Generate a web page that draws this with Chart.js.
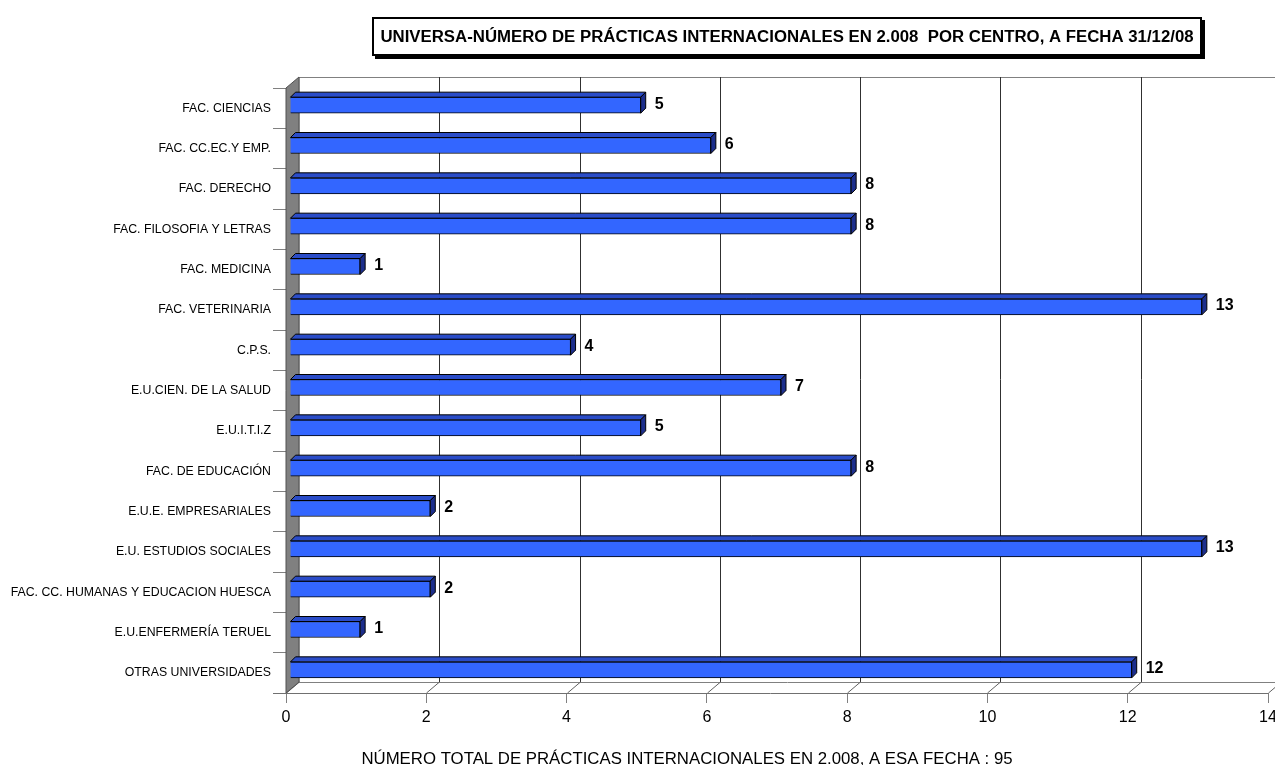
<!DOCTYPE html>
<html>
<head>
<meta charset="utf-8">
<script src="https://cdn.jsdelivr.net/npm/chart.js@4/dist/chart.umd.min.js"></script>
<style>
  body { margin: 0; background: #fff; }
  canvas { display: block; }
</style>
</head>
<body>
<canvas id="chart" width="1275" height="765"></canvas>
<script>
// datos del gráfico
const categories = [
    'FAC. CIENCIAS', 'FAC. CC.EC.Y EMP.', 'FAC. DERECHO', 'FAC. FILOSOFIA Y LETRAS',
    'FAC. MEDICINA', 'FAC. VETERINARIA', 'C.P.S.', 'E.U.CIEN. DE LA SALUD',
    'E.U.I.T.I.Z', 'FAC. DE EDUCACIÓN', 'E.U.E. EMPRESARIALES', 'E.U. ESTUDIOS SOCIALES',
    'FAC. CC. HUMANAS Y EDUCACION HUESCA', 'E.U.ENFERMERÍA TERUEL', 'OTRAS UNIVERSIDADES'
];
const values = [5, 6, 8, 8, 1, 13, 4, 7, 5, 8, 2, 13, 2, 1, 12];
const xTicks = [0, 2, 4, 6, 8, 10, 12, 14];

const titleText = 'UNIVERSA-NÚMERO DE PRÁCTICAS INTERNACIONALES EN 2.008  POR CENTRO, A FECHA 31/12/08';
const footerText = 'NÚMERO TOTAL DE PRÁCTICAS INTERNACIONALES EN 2.008, A ESA FECHA : 95';

const FONT = '"Liberation Sans", Arial, sans-serif';
const DX = 13, DY = -11;      // profundidad del fondo
const BDX = 4, BDY = -3;      // desplazamiento de las barras
const BD = 5;                 // grosor 3D de la barra

const box3d = {
    id: 'box3d',
    beforeDatasetsDraw(chart) {
        const { ctx, chartArea: a, scales: { x } } = chart;
        ctx.save();
        // plano del fondo (borde superior)
        ctx.strokeStyle = '#808080';
        ctx.lineWidth = 1;
        ctx.beginPath();
        ctx.moveTo(a.left + DX, a.bottom + DY);
        ctx.lineTo(a.left + DX, a.top + DY + 0.5);
        ctx.lineTo(chart.width, a.top + DY + 0.5);
        ctx.stroke();
        // suelo
        ctx.beginPath();
        ctx.moveTo(a.left + DX, a.bottom + DY + 0.5);
        ctx.lineTo(a.right + DX, a.bottom + DY + 0.5);
        ctx.stroke();
        // líneas de división verticales en el fondo
        xTicks.forEach(v => {
            const px = Math.round(x.getPixelForValue(v)) + 0.5;
            if (v > 0) {
                ctx.strokeStyle = '#303030';
                ctx.beginPath();
                ctx.moveTo(px + DX, a.top + DY);
                ctx.lineTo(px + DX, a.bottom + DY);
                ctx.stroke();
            }
            ctx.strokeStyle = '#606060';
            ctx.beginPath();
            ctx.moveTo(px, a.bottom);
            ctx.lineTo(px + DX, a.bottom + DY);
            ctx.stroke();
        });
        // pared izquierda
        ctx.fillStyle = '#808080';
        ctx.strokeStyle = '#505050';
        ctx.beginPath();
        ctx.moveTo(a.left, a.top);
        ctx.lineTo(a.left + DX, a.top + DY);
        ctx.lineTo(a.left + DX, a.bottom + DY);
        ctx.lineTo(a.left, a.bottom);
        ctx.closePath();
        ctx.fill();
        ctx.stroke();
        // eje frontal
        ctx.strokeStyle = '#707070';
        ctx.beginPath();
        ctx.moveTo(a.left - 13, a.bottom + 0.5);
        ctx.lineTo(a.right, a.bottom + 0.5);
        ctx.stroke();
        ctx.restore();

        ctx.save();
        ctx.translate(BDX, BDY);
    },
    afterDatasetsDraw(chart) {
        const { ctx } = chart;
        const meta = chart.getDatasetMeta(0);
        meta.data.forEach((bar, i) => {
            const x0 = bar.base, x1 = bar.x;
            const top = bar.y - bar.height / 2, bot = bar.y + bar.height / 2;
            ctx.lineWidth = 1;
            ctx.strokeStyle = '#000';
            // cara superior
            ctx.fillStyle = '#2a4cc8';
            ctx.beginPath();
            ctx.moveTo(x0, top);
            ctx.lineTo(x0 + BD, top - BD);
            ctx.lineTo(x1 + BD, top - BD);
            ctx.lineTo(x1, top);
            ctx.closePath();
            ctx.fill();
            ctx.stroke();
            // cara lateral
            ctx.fillStyle = '#1c2e8c';
            ctx.beginPath();
            ctx.moveTo(x1, top);
            ctx.lineTo(x1 + BD, top - BD);
            ctx.lineTo(x1 + BD, bot - BD);
            ctx.lineTo(x1, bot);
            ctx.closePath();
            ctx.fill();
            ctx.stroke();
            // etiqueta de valor
            ctx.fillStyle = '#000';
            ctx.font = 'bold 16px ' + FONT;
            ctx.textAlign = 'left';
            ctx.textBaseline = 'middle';
            ctx.fillText(String(values[i]), x1 + BD + 9, bar.y - 1);
        });
        ctx.restore();
    },
    afterDraw(chart) {
        const { ctx } = chart;
        ctx.save();
        // título con sombra
        const bx = 372, by = 17, bw = 830, bh = 39;
        ctx.fillStyle = '#000';
        ctx.fillRect(bx + 3, by + 3, bw, bh);
        ctx.fillStyle = '#fff';
        ctx.fillRect(bx, by, bw, bh);
        ctx.strokeStyle = '#000';
        ctx.lineWidth = 2;
        ctx.strokeRect(bx + 1, by + 1, bw - 2, bh - 2);
        ctx.fillStyle = '#000';
        ctx.font = 'bold 16.8px ' + FONT;
        ctx.textAlign = 'center';
        ctx.textBaseline = 'middle';
        ctx.fillText(titleText, bx + bw / 2, by + bh / 2 + 1);
        // texto inferior
        ctx.font = '16.8px ' + FONT;
        ctx.fillText(footerText, 687, 759);
        ctx.restore();
    }
};

new Chart(document.getElementById('chart'), {
    type: 'bar',
    data: {
        labels: categories,
        datasets: [{
            data: values,
            backgroundColor: '#3366ff',
            borderColor: '#000',
            borderWidth: 1,
            barThickness: 16
        }]
    },
    options: {
        indexAxis: 'y',
        responsive: false,
        animation: false,
        devicePixelRatio: 1,
        layout: { padding: { top: 88, right: 7, left: 0, bottom: 0 } },
        plugins: { legend: { display: false }, tooltip: { enabled: false } },
        scales: {
            x: {
                min: 0, max: 14,
                afterFit: s => { s.height = 72; s.paddingRight = 0; s.paddingLeft = 0; },
                afterBuildTicks: s => { s.ticks = xTicks.map(v => ({ value: v })); },
                grid: { drawOnChartArea: false, drawTicks: true, tickLength: 10, color: '#808080' },
                border: { display: false },
                ticks: { color: '#000', font: { family: FONT, size: 16 }, padding: 5 }
            },
            y: {
                afterFit: s => { s.width = 286; s.paddingTop = 0; s.paddingBottom = 0; },
                grid: { offset: true, drawOnChartArea: false, drawTicks: true, tickLength: 13, color: '#808080' },
                border: { display: false },
                ticks: { color: '#000', font: { family: FONT, size: 12.3 }, padding: 2, autoSkip: false }
            }
        }
    },
    plugins: [box3d]
});
</script>
</body>
</html>
